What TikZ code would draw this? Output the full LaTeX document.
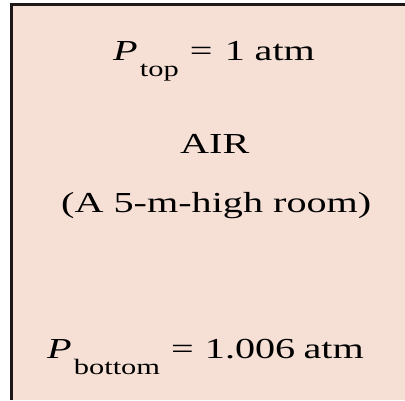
\documentclass[tikz,border=0pt]{standalone}
\usepackage{fontspec}
\setmainfont{Liberation Serif}
\usepackage{graphicx}
\definecolor{roomfill}{RGB}{246,224,213}
\definecolor{roomedge}{RGB}{30,24,24}
\newcommand{\wide}[1]{\scalebox{1.385}[1]{#1}}
\newcommand{\subtxt}[1]{\raisebox{-16pt}{\fontsize{22}{22}\selectfont #1}}
\tikzset{
  txt/.style={inner sep=0pt, anchor=base west, font=\fontsize{29}{35}\selectfont, text=black},
}
\begin{document}
\begin{tikzpicture}[x=1pt, y=-1pt]
\useasboundingbox (0,0) rectangle (405,400);
\fill[roomfill] (11.5,4.5) rectangle (405,400);
\draw[roomedge, line width=3pt] (11.5,400) -- (11.5,4.5) -- (405,4.5);
\node[txt] (ptop) at (113,60) {\wide{\textit{P}\kern1.5pt\subtxt{top}\hspace{8pt}=\hspace{9pt}1\hspace{7pt}atm}};
\node[txt] (air) at (180,153) {\wide{AIR}};
\node[txt] (room) at (61,212) {\wide{(A 5-m-high room)}};
\node[txt] (pbot) at (47,358) {\wide{\textit{P}\kern1.5pt\subtxt{bottom}\hspace{8pt}=\hspace{8pt}1.006\hspace{6pt}atm}};
\end{tikzpicture}
\end{document}
